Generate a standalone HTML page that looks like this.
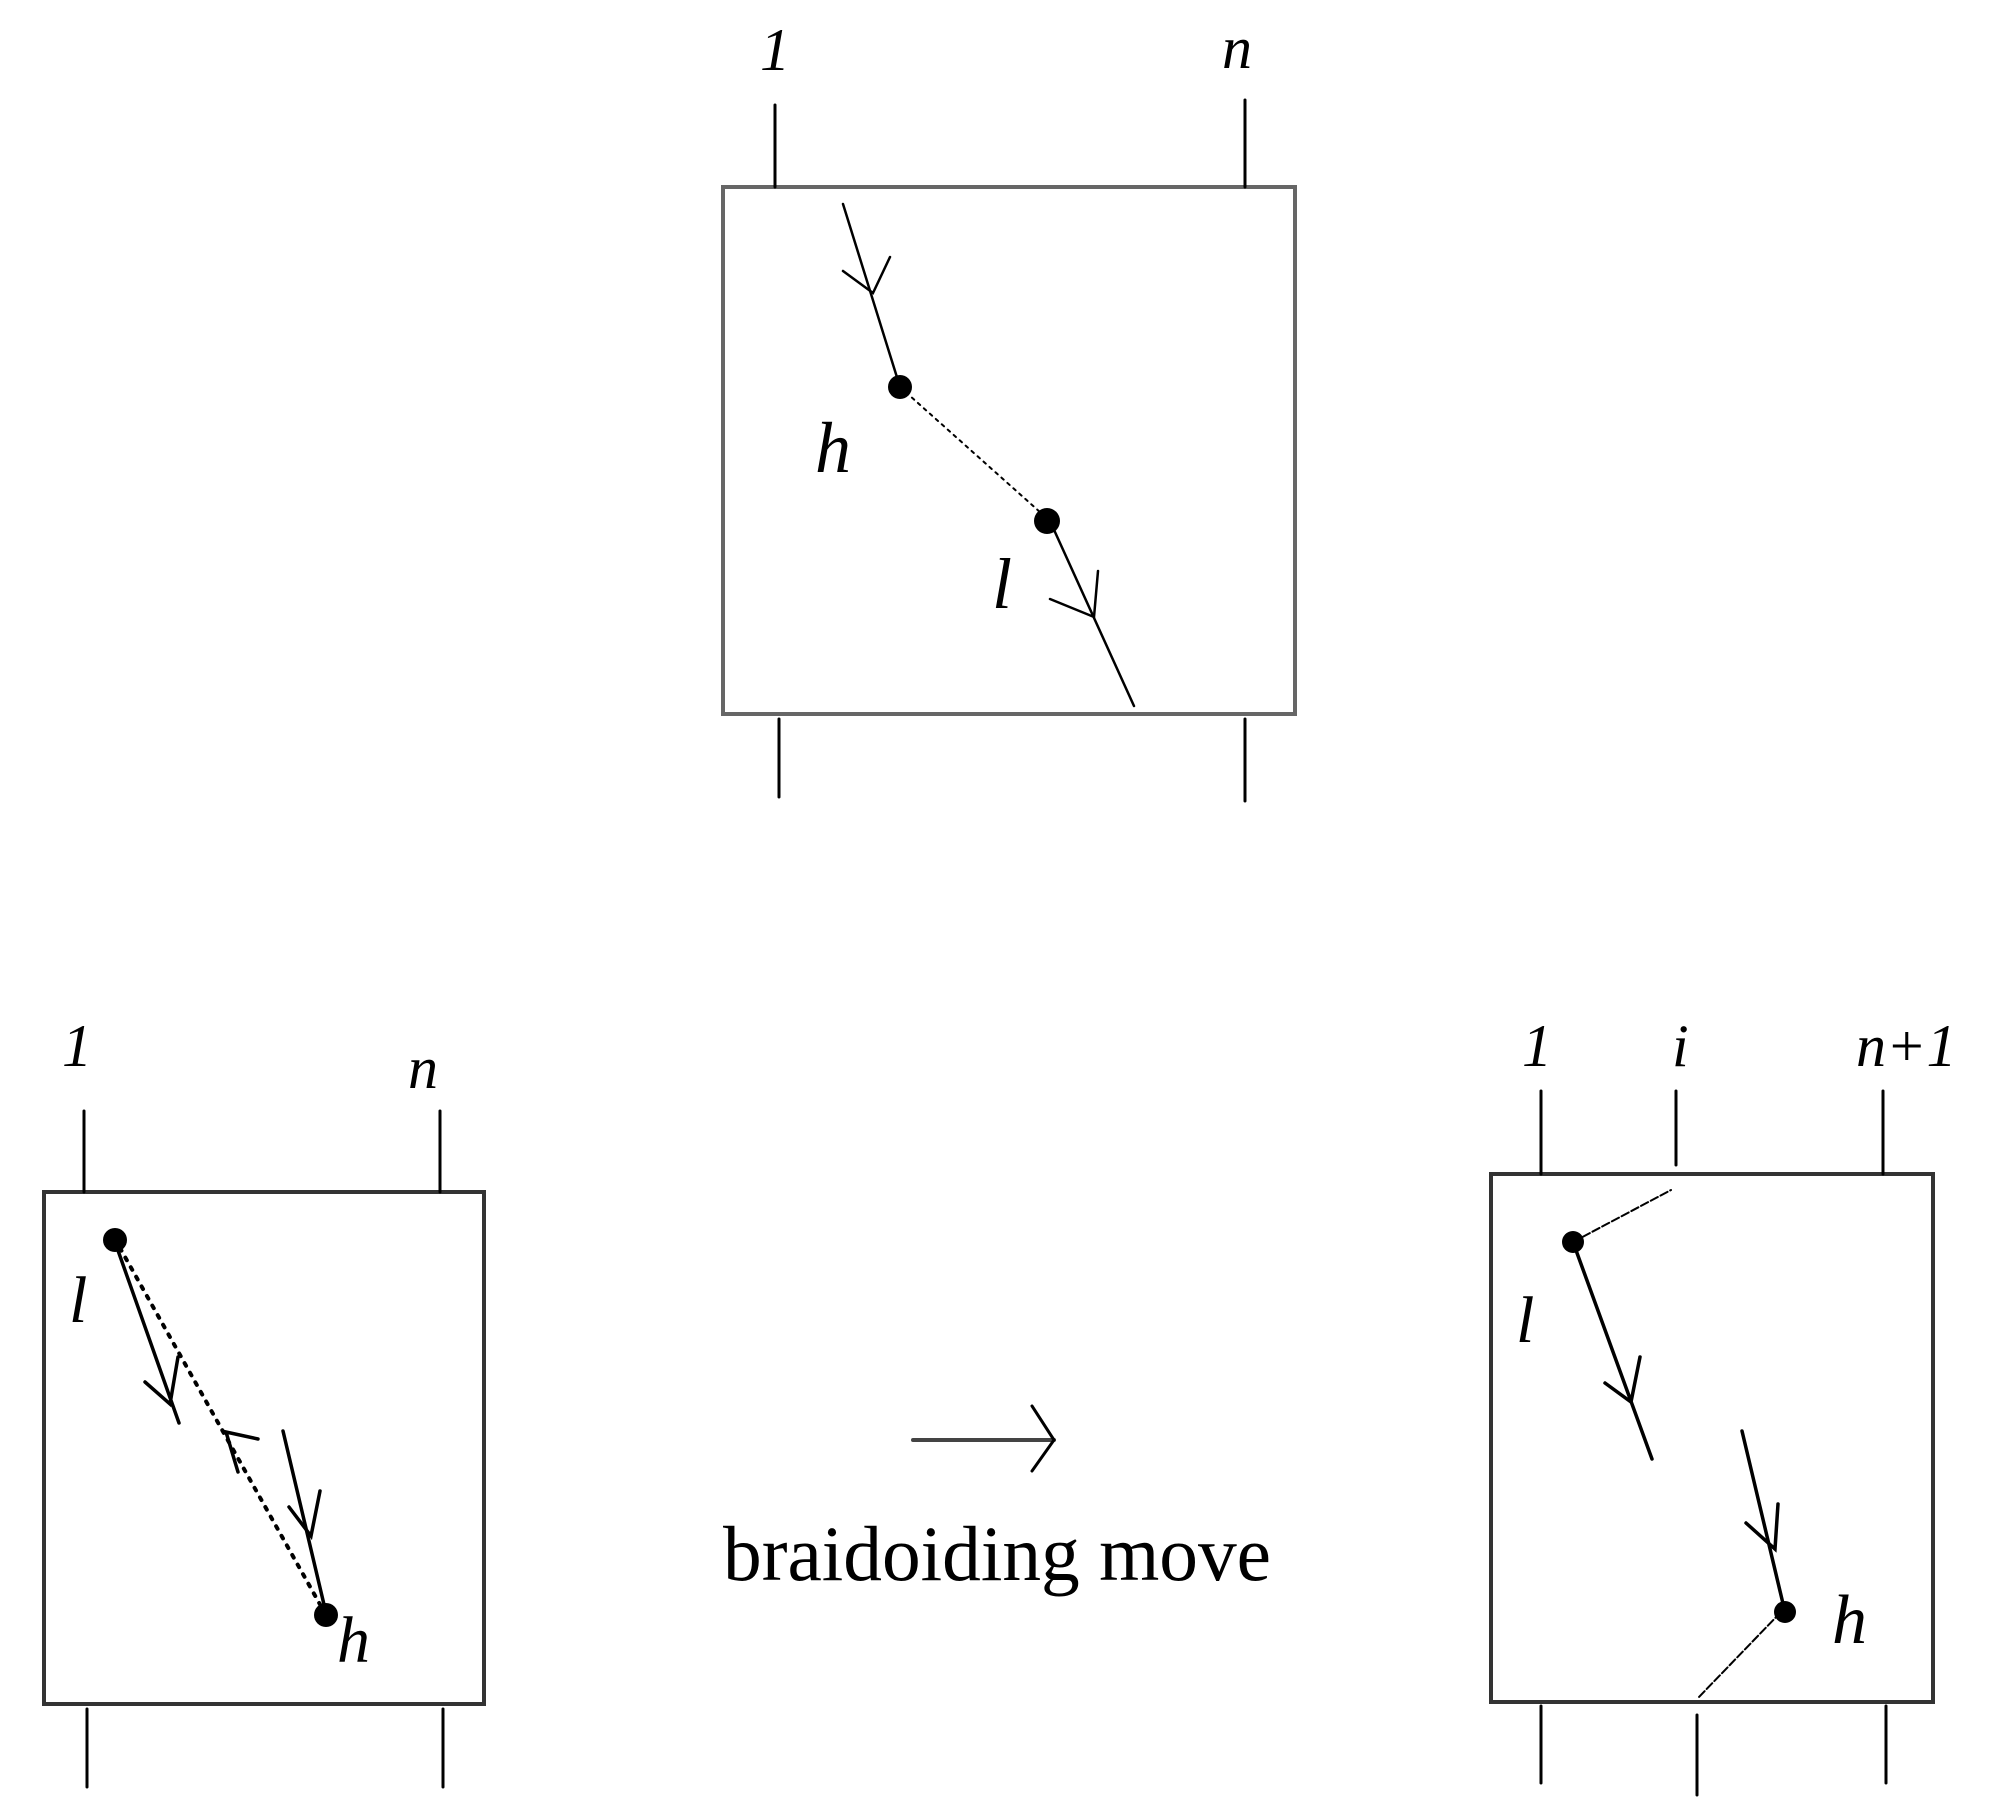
<!DOCTYPE html>
<html><head><style>
html,body{margin:0;padding:0;background:#fff;}
svg{display:block;}
.lb{font-family:"Liberation Serif",serif;font-style:italic;fill:#000;}
</style></head><body>
<svg width="1997" height="1808" viewBox="0 0 1997 1808" xmlns="http://www.w3.org/2000/svg">
<g stroke="#000" fill="none" stroke-linecap="round">
<!-- Top box -->
<rect x="723" y="187" width="572" height="527" stroke="#666" stroke-width="4"/>
<line x1="775" y1="105" x2="775" y2="187" stroke-width="3"/>
<line x1="1245" y1="100" x2="1245" y2="187" stroke-width="3"/>
<line x1="779" y1="719" x2="779" y2="797" stroke-width="3"/>
<line x1="1245" y1="719" x2="1245" y2="801" stroke-width="3"/>
<line x1="843" y1="204" x2="900" y2="387" stroke-width="2.5"/>
<polyline points="843,271 873,293 890,257" stroke-width="2.5"/>
<line x1="900" y1="387" x2="1050" y2="521" stroke-width="2" stroke-dasharray="3,5"/>
<line x1="1050" y1="521" x2="1134" y2="706" stroke-width="2.5"/>
<polyline points="1050,599 1094,617 1098,571" stroke-width="2.5"/>
<circle cx="900" cy="387" r="12" fill="#000" stroke="none"/>
<circle cx="1047" cy="521" r="13" fill="#000" stroke="none"/>

<!-- Bottom-left box -->
<rect x="44" y="1192" width="440" height="512" stroke="#333" stroke-width="4"/>
<line x1="84" y1="1111" x2="84" y2="1192" stroke-width="3"/>
<line x1="440" y1="1111" x2="440" y2="1192" stroke-width="3"/>
<line x1="87" y1="1709" x2="87" y2="1787" stroke-width="3"/>
<line x1="443" y1="1709" x2="443" y2="1787" stroke-width="3"/>
<line x1="115" y1="1242" x2="179" y2="1423" stroke-width="3.5"/>
<polyline points="145,1382 170,1404 178,1357" stroke-width="3.5"/>
<line x1="120" y1="1248" x2="322" y2="1608" stroke-width="4" stroke-dasharray="3,8"/>
<polyline points="258,1439 226,1432 238,1472" stroke-width="3.5"/>
<line x1="283" y1="1431" x2="326" y2="1613" stroke-width="3.5"/>
<polyline points="289,1507 311,1536 320,1491" stroke-width="3.5"/>
<circle cx="115" cy="1240" r="12" fill="#000" stroke="none"/>
<circle cx="326" cy="1615" r="12" fill="#000" stroke="none"/>

<!-- middle arrow -->
<line x1="913" y1="1440" x2="1054" y2="1440" stroke="#444" stroke-width="4"/>
<polyline points="1032,1406 1054,1440 1032,1471" stroke-width="3"/>

<!-- Right box -->
<rect x="1491" y="1174" width="442" height="528" stroke="#333" stroke-width="4"/>
<line x1="1541" y1="1091" x2="1541" y2="1174" stroke-width="3"/>
<line x1="1676" y1="1091" x2="1676" y2="1165" stroke-width="3"/>
<line x1="1883" y1="1091" x2="1883" y2="1174" stroke-width="3"/>
<line x1="1541" y1="1706" x2="1541" y2="1783" stroke-width="3"/>
<line x1="1697" y1="1715" x2="1697" y2="1795" stroke-width="3"/>
<line x1="1886" y1="1706" x2="1886" y2="1783" stroke-width="3"/>
<line x1="1573" y1="1242" x2="1671" y2="1190" stroke-width="2" stroke-dasharray="8,3"/>
<line x1="1573" y1="1242" x2="1652" y2="1459" stroke-width="3.5"/>
<polyline points="1605,1383 1631,1402 1640,1357" stroke-width="3.5"/>
<line x1="1742" y1="1431" x2="1785" y2="1612" stroke-width="3.5"/>
<polyline points="1746,1523 1775,1549 1778,1504" stroke-width="3.5"/>
<line x1="1781" y1="1612" x2="1698" y2="1698" stroke-width="2" stroke-dasharray="8,3"/>
<circle cx="1573" cy="1242" r="11" fill="#000" stroke="none"/>
<circle cx="1785" cy="1612" r="11" fill="#000" stroke="none"/>
</g>

<!-- labels -->
<text class="lb" x="760" y="70" font-size="60">1</text>
<text class="lb" x="1222" y="68" font-size="60">n</text>
<text class="lb" x="815" y="472" font-size="72">h</text>
<text class="lb" x="992" y="608" font-size="72">l</text>

<text class="lb" x="62" y="1066" font-size="60">1</text>
<text class="lb" x="408" y="1088" font-size="60">n</text>
<text class="lb" x="69" y="1322" font-size="66">l</text>
<text class="lb" x="337" y="1662" font-size="66">h</text>

<text x="723" y="1580" font-family="Liberation Serif, serif" font-size="78" textLength="548" lengthAdjust="spacingAndGlyphs">braidoiding move</text>

<text class="lb" x="1522" y="1066" font-size="60">1</text>
<text class="lb" x="1672" y="1066" font-size="60">i</text>
<text class="lb" x="1856" y="1066" font-size="60">n+1</text>
<text class="lb" x="1516" y="1342" font-size="66">l</text>
<text class="lb" x="1832" y="1643" font-size="70">h</text>
</svg>
</body></html>
